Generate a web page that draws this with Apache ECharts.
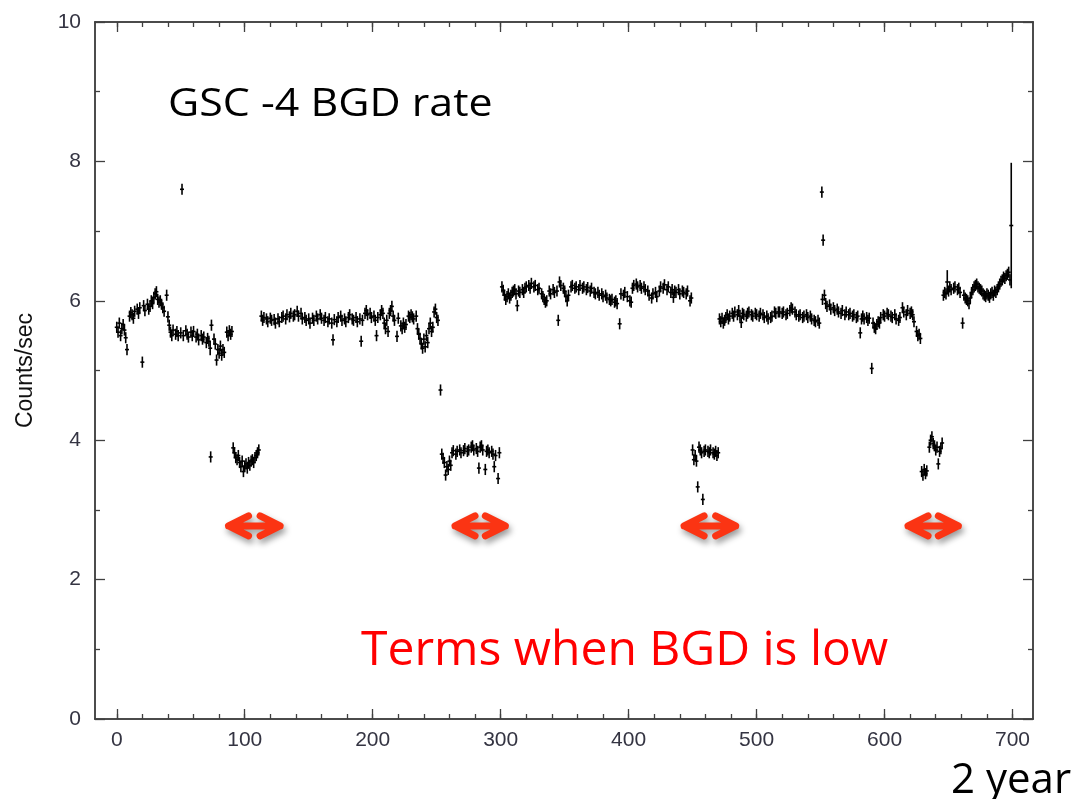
<!DOCTYPE html>
<html lang="en">
<head>
<meta charset="UTF-8">
<title>GSC BGD rate</title>
<style>
  html, body { margin: 0; padding: 0; background: #fff; }
  #chart { width: 1079px; height: 799px; }
</style>
</head>
<body>
<div id="chart"></div>
<script src="https://cdn.jsdelivr.net/npm/echarts@6/dist/echarts.min.js"></script>
<script>
// tick positions
var xMajor = [0, 100, 200, 300, 400, 500, 600, 700]
var xMinor = [0, 20, 40, 60, 80, 100, 120, 140, 160, 180, 200, 220, 240, 260, 280, 300, 320, 340, 360, 380, 400, 420, 440, 460, 480, 500, 520, 540, 560, 580, 600, 620, 640, 660, 680, 700]
var yMajor = [0, 2, 4, 6, 8, 10]
var yMinor = [1, 3, 5, 7, 9]

// default half height of an error bar (counts/sec)
var defaultErr = 0.08

// [day, rate] or [day, rate, err]
var highA = [[0,5.62],[1,5.55],[2,5.68],[3,5.5],[4,5.6],[5,5.66],[6,5.58],[7,5.47],[8,5.3],[10,5.78],[11,5.83],[12,5.8],[13,5.75],[14,5.85],[16,5.88],[17,5.82],[18,5.9],[20,5.12],[21,5.93],[22,5.86],[24,5.95],[25,5.88],[26,5.92],[27,6.0],[28,5.96],[29,6.05],[30,6.1],[31,6.13],[32,6.02],[33,5.98],[34,6.0],[35,5.95],[36,5.9],[37,5.85],[39,6.08],[40,5.77],[41,5.65],[42,5.55],[43,5.5],[44,5.58],[46,5.52],[47,5.56],[48,5.5],[50,5.54],[51,7.6],[52,5.5],[54,5.57],[55,5.52],[56,5.48],[58,5.55],[59,5.5],[60,5.56],[62,5.48],[63,5.52],[64,5.44],[66,5.5],[67,5.45],[68,5.48],[70,5.4],[71,5.46],[72,5.42],[73,5.32,0.1],[74,5.65],[76,5.45],[77,5.38],[78,5.15],[79,5.3],[80,5.25],[81,5.35],[82,5.22],[83,5.3],[84,5.26],[86,5.55],[87,5.5],[88,5.57],[89,5.52],[90,5.56]]
var lowA = [[73.4,3.76],[91,3.89],[92,3.82],[93,3.75],[94,3.72],[95,3.78],[96,3.68],[97,3.62],[98,3.7],[99,3.55],[100,3.63],[101,3.66],[102,3.6],[103,3.68],[104,3.64],[105,3.7],[106,3.72],[107,3.68],[108,3.75],[109,3.78],[110,3.82],[111,3.86]]
var highB = [[113,5.78],[114,5.72],[115,5.76],[117,5.74],[118,5.7],[120,5.75],[121,5.72],[123,5.73],[124,5.68],[126,5.74],[127,5.7],[129,5.76],[130,5.78],[132,5.74],[133,5.8],[135,5.77],[136,5.82],[138,5.78],[139,5.8],[141,5.85],[142,5.78],[144,5.82],[145,5.74],[147,5.76],[148,5.72],[150,5.74],[151,5.68],[153,5.75],[154,5.72],[156,5.78],[157,5.74],[159,5.8],[160,5.75],[162,5.72],[163,5.76],[165,5.7],[166,5.74],[168,5.68],[169,5.44],[170,5.73],[172,5.7],[173,5.76],[175,5.78],[176,5.72],[178,5.74],[179,5.7],[181,5.76],[182,5.8],[184,5.74],[185,5.72],[187,5.76],[188,5.7],[190,5.74],[191,5.42],[192,5.72],[194,5.82],[195,5.86],[196,5.8],[198,5.82],[199,5.76],[201,5.78],[202,5.72],[203,5.5],[204,5.76],[206,5.8],[207,5.86],[208,5.82],[209,5.68],[210,5.6],[211,5.72],[212,5.56],[213,5.82],[214,5.86],[215,5.92],[216,5.78],[217,5.72],[219,5.49],[220,5.75],[222,5.64],[223,5.6],[224,5.68],[225,5.62],[226,5.66],[228,5.78],[229,5.76],[230,5.8],[231,5.77],[232,5.74],[234,5.78],[235,5.6],[236,5.52],[237,5.46],[238,5.38],[239,5.32],[240,5.45],[241,5.34],[242,5.5],[243,5.4],[244,5.6],[245,5.68],[246,5.56],[247,5.62],[248,5.84],[249,5.88],[250,5.76],[251,5.72],[253,4.72]]
var lowB = [[254,3.8],[255,3.74],[256,3.68],[257,3.5],[258,3.62],[259,3.58],[260,3.7],[261,3.64],[262,3.82],[263,3.85],[265,3.8],[266,3.84],[268,3.86],[269,3.82],[271,3.85],[272,3.88],[274,3.84],[275,3.86],[277,3.9],[278,3.92],[279,3.86],[281,3.88],[282,3.84],[283,3.6],[284,3.9],[285,3.92],[286,3.86],[288,3.58],[289,3.84],[290,3.86],[291,3.82],[293,3.84],[294,3.8],[295,3.62],[296,3.78],[298,3.45],[299,3.82]]
var highC = [[301,6.2],[302,6.15],[303,6.08],[304,6.02],[305,6.06],[306,6.1],[307,6.04],[308,6.08],[309,6.12],[310,6.14],[311,6.16],[312,6.1],[313,5.93],[314,6.14],[315,6.12],[317,6.16],[318,6.12],[319,6.18],[320,6.2],[322,6.22],[323,6.18],[324,6.25],[326,6.2],[327,6.22],[329,6.16],[330,6.18],[332,6.1],[333,6.06],[334,6.02],[335,5.98],[336,6.0],[338,6.14],[339,6.1],[341,6.16],[342,6.12],[344,6.14],[345,5.72],[346,6.27],[347,6.22],[349,6.18],[350,6.14],[351,6.06],[352,6.0],[353,6.08],[355,6.2],[356,6.22],[358,6.18],[359,6.2],[361,6.16],[362,6.22],[364,6.18],[365,6.2],[367,6.16],[368,6.19],[370,6.14],[371,6.18],[373,6.12],[374,6.1],[376,6.12],[377,6.08],[379,6.1],[380,6.06],[382,6.08],[383,6.04],[385,6.02],[386,6.0],[387,6.02],[389,5.98],[390,6.0],[391,5.96],[393,5.67],[394,6.1],[396,6.08],[397,6.12],[399,6.06],[401,6.0],[402,5.98],[403,6.18],[404,6.22],[406,6.24],[407,6.2],[409,6.22],[410,6.18],[412,6.2],[413,6.16],[415,6.14],[416,6.08],[418,6.04],[419,6.1],[421,6.12],[422,6.06],[424,6.14],[425,6.2],[427,6.18],[428,6.23],[430,6.16],[431,6.2],[433,6.12],[434,6.16],[435,6.05],[436,6.14],[437,6.12],[439,6.16],[440,6.1],[442,6.14],[443,6.12],[445,6.1],[446,6.14],[448,6.0],[449,6.04]]
var lowC = [[450,3.86],[451,3.72],[452,3.78],[453,3.7],[454,3.33],[455,3.9],[456,3.86],[457,3.82],[458,3.15],[459,3.84],[460,3.86],[462,3.84],[463,3.82],[464,3.86],[466,3.82],[467,3.8],[468,3.84],[469,3.78],[470,3.82]]
var highD = [[471,5.74],[472,5.7],[473,5.75],[474,5.68],[475,5.72],[476,5.76],[477,5.8],[478,5.74],[479,5.78],[481,5.82],[482,5.78],[483,5.84],[485,5.8],[486,5.86],[487,5.78],[488,5.69],[489,5.82],[490,5.8],[492,5.78],[493,5.82],[494,5.84],[496,5.8],[497,5.78],[499,5.82],[500,5.8],[502,5.78],[503,5.82],[505,5.8],[506,5.76],[508,5.78],[509,5.74],[511,5.76],[512,5.78],[514,5.84],[515,5.82],[517,5.84],[518,5.84],[520,5.82],[521,5.84],[523,5.8],[524,5.82],[526,5.86],[527,5.9],[528,5.88],[530,5.84],[531,5.8],[533,5.78],[534,5.8],[536,5.76],[537,5.78],[539,5.8],[540,5.76],[542,5.78],[543,5.74],[545,5.72],[546,5.7],[548,5.72],[549,5.68],[551,7.56],[552,6.87]]
var highE = [[551.5,6.02],[553,6.08],[554,5.96],[555,5.92],[557,5.94],[558,5.88],[560,5.9],[561,5.86],[563,5.88],[564,5.84],[566,5.82],[567,5.86],[569,5.8],[570,5.84],[572,5.8],[573,5.82],[575,5.78],[576,5.8],[578,5.76],[579,5.78],[581,5.54],[582,5.74],[583,5.78],[584,5.74],[586,5.76],[587,5.72],[588,5.75],[590,5.03],[591,5.68],[592,5.62],[593,5.6],[594,5.66],[595,5.7],[596,5.68],[597,5.76],[599,5.8],[600,5.78],[602,5.82],[603,5.8],[605,5.78],[606,5.76],[608,5.8],[609,5.74],[611,5.72],[612,5.76],[614,5.9],[615,5.84],[617,5.8],[618,5.86],[620,5.82],[621,5.84],[622,5.8],[623,5.7],[625,5.56],[626,5.5],[627,5.52],[628,5.46]]
var lowD = [[629,3.55],[630,3.5],[631,3.58],[632,3.52],[633,3.56],[635,3.9],[636,4.0],[637,4.05],[638,3.95],[639,3.92],[640,3.86],[641,3.9],[642,3.66],[643,3.84],[644,3.88],[645,3.96]]
var highF = [[646,6.08],[647,6.12],[648,6.1],[649,6.27,0.17],[650,6.14],[651,6.2],[652,6.16],[654,6.18],[655,6.2],[657,6.16],[658,6.18],[659,6.12],[661,5.68],[662,6.08],[663,6.04],[664,6.02],[665,6.0],[666,5.96],[667,6.04],[668,6.12],[669,6.16],[670,6.2],[671,6.22],[672,6.24],[673,6.2],[674,6.18],[675,6.16],[676,6.14],[677,6.1],[678,6.08],[679,6.06],[680,6.1],[681,6.08],[682,6.05],[683,6.1],[684,6.12],[685,6.08],[686,6.14],[687,6.12],[688,6.16],[689,6.2],[690,6.24],[691,6.28],[692,6.3],[693,6.34],[694,6.32],[695,6.36],[696,6.38],[697,6.41],[698,6.3],[699,7.08,0.9]]

// low-background terms marked with red arrows: [from day, to day, level]
var lowTerms = [[85, 130, 2.77], [262, 306, 2.77], [441, 486, 2.77], [616, 660, 2.77]]

var rateData = [].concat(highA, lowA, highB, lowB, highC, lowC, highD, highE, lowD, highF).map(function (d) {
  return [d[0], d[1], d.length > 2 ? d[2] : defaultErr]
})

var chart = echarts.init(document.getElementById('chart'))

var lineColor = '#404040'
var labelStyle = { fontFamily: 'Liberation Sans', fontSize: 21, color: '#343442' }

function xAxisDef(pos, values, len, labels) {
  return {
    type: 'value', position: pos, min: -17, max: 716,
    axisLine: { show: true, onZero: false, lineStyle: { color: lineColor, width: 1.5 } },
    axisTick: { show: true, inside: true, length: len, customValues: values, lineStyle: { color: lineColor, width: 1.3 } },
    axisLabel: labels ? Object.assign({ show: true, margin: 11, customValues: xMajor }, labelStyle) : { show: false },
    splitLine: { show: false }
  }
}
function yAxisDef(pos, values, len, labels) {
  var ax = {
    type: 'value', position: pos, min: 0, max: 10,
    axisLine: { show: true, onZero: false, lineStyle: { color: lineColor, width: 1.5 } },
    axisTick: { show: true, inside: true, length: len, customValues: values, lineStyle: { color: lineColor, width: 1.3 } },
    axisLabel: labels ? Object.assign({ show: true, margin: 14, customValues: yMajor }, labelStyle) : { show: false },
    splitLine: { show: false }
  }
  if (labels) {
    ax.name = 'Counts/sec'
    ax.nameLocation = 'middle'
    ax.nameRotate = 90
    ax.nameGap = 58
    ax.nameTextStyle = { fontFamily: 'Liberation Sans', fontSize: 23, color: '#111' }
  }
  return ax
}

var option = {
  animation: false,
  backgroundColor: '#fff',
  grid: { left: 95, right: 46, top: 22, bottom: 80, containLabel: false, outerBoundsMode: 'none' },
  xAxis: [
    xAxisDef('bottom', xMajor, 10, true),
    xAxisDef('bottom', xMinor, 5, false),
    xAxisDef('top', xMajor, 10, false),
    xAxisDef('top', xMinor, 5, false)
  ],
  yAxis: [
    yAxisDef('left', yMajor, 10, true),
    yAxisDef('left', yMinor, 5, false),
    yAxisDef('right', yMajor, 10, false),
    yAxisDef('right', yMinor, 5, false)
  ],
  series: [
    {
      // rate points with vertical error bars
      type: 'custom',
      xAxisIndex: 0, yAxisIndex: 0,
      data: rateData,
      encode: { x: 0, y: 1 },
      renderItem: function (params, api) {
        var x = api.value(0), y = api.value(1), e = api.value(2)
        var c = api.coord([x, y])
        var hi = api.coord([x, y + e])
        var lo = api.coord([x, y - e])
        var st = { stroke: '#000', lineWidth: 1.6 }
        return {
          type: 'group',
          children: [
            { type: 'line', shape: { x1: c[0], y1: hi[1], x2: c[0], y2: lo[1] }, style: st },
            { type: 'line', shape: { x1: c[0] - 2, y1: c[1], x2: c[0] + 2, y2: c[1] }, style: st }
          ]
        }
      }
    },
    {
      // red double arrows for the low-background terms
      type: 'custom',
      xAxisIndex: 0, yAxisIndex: 0,
      data: lowTerms,
      encode: { x: [0, 1], y: 2 },
      z: 5,
      renderItem: function (params, api) {
        var a = api.coord([api.value(0), api.value(2)])
        var b = api.coord([api.value(1), api.value(2)])
        var x1 = a[0] + 3, x2 = b[0] - 3, y = a[1]
        var d = 'M' + (x1 + 20) + ' ' + (y - 10) + 'L' + x1 + ' ' + y + 'L' + (x1 + 20) + ' ' + (y + 10) +
          'M' + x1 + ' ' + y + 'L' + x2 + ' ' + y +
          'M' + (x2 - 20) + ' ' + (y - 10) + 'L' + x2 + ' ' + y + 'L' + (x2 - 20) + ' ' + (y + 10)
        return {
          type: 'path',
          shape: { pathData: d },
          style: {
            stroke: '#fb3413', lineWidth: 7, lineCap: 'round', lineJoin: 'round', fill: null,
            shadowBlur: 6, shadowColor: 'rgba(0,0,0,0.4)', shadowOffsetX: 2, shadowOffsetY: 4
          }
        }
      }
    }
  ],
  graphic: [
    {
      type: 'text', x: 168, y: 86, scaleX: 1.13,
      style: { text: 'GSC -4 BGD rate', font: '38px "Open Sans"', fill: '#000' }
    },
    {
      type: 'text', x: 361, y: 627,
      style: { text: 'Terms when BGD is low', font: '48px "Open Sans"', fill: '#ff0000' }
    },
    {
      type: 'text', x: 951, y: 760,
      style: { text: '2 year', font: '42px "Open Sans"', fill: '#000' }
    }
  ]
}

chart.setOption(option)
</script>
</body>
</html>
